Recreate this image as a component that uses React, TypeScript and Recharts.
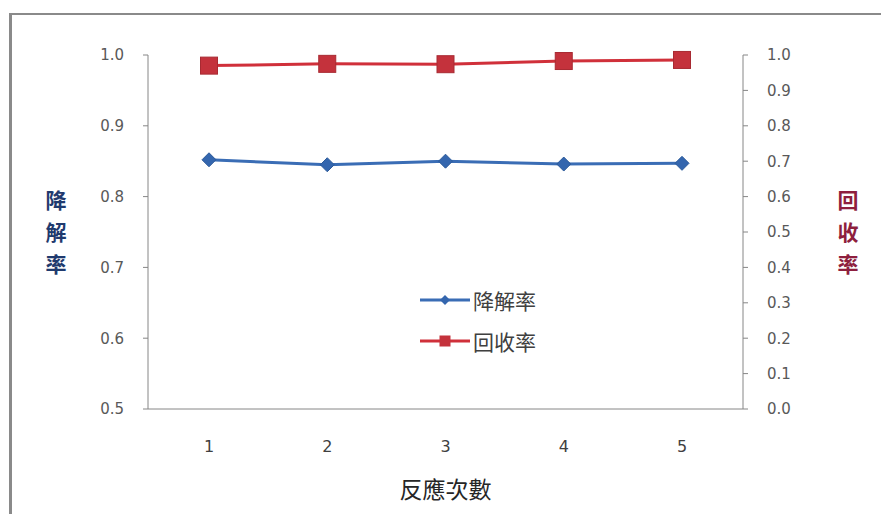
import React from 'react';
import { LineChart, Line, XAxis, YAxis, Legend } from 'recharts';

// Reaction cycles and the two measured rates per cycle
const cycles = ['1', '2', '3', '4', '5'];
const degradationRate = [0.852, 0.845, 0.85, 0.846, 0.847];
const recoveryRate = [0.97, 0.975, 0.974, 0.983, 0.986];

// Axis ticks
const leftTicks = [0.5, 0.6, 0.7, 0.8, 0.9, 1.0];
const rightTicks = [0, 0.1, 0.2, 0.3, 0.4, 0.5, 0.6, 0.7, 0.8, 0.9, 1.0];

// Titles
const degradationName = '降解率';
const recoveryName = '回收率';
const xTitle = '反應次數';

// Legend rows follow the series order
const seriesOrder = ['degradation', 'recovery'];

const BLUE = '#3A6DB5';
const BLUE_DOT = '#3466AE';
const RED = '#D0303A';
const RED_DOT = '#C4323C';
const AXIS = '#868686';
const TICK_TEXT = '#595959';
const CJK = '"Noto Sans CJK TC", "Noto Sans CJK SC", sans-serif';
const NUM = '"DejaVu Sans", sans-serif';

const data = cycles.map((c, i) => ({
  cycle: c,
  degradation: degradationRate[i],
  recovery: recoveryRate[i],
}));

const fmt = (v: number) => v.toFixed(1);

const DiamondDot = (props: any) => {
  const { cx, cy } = props;
  if (cx == null || cy == null) return null;
  const r = 7;
  return (
    <polygon
      points={`${cx},${cy - r} ${cx + r},${cy} ${cx},${cy + r} ${cx - r},${cy}`}
      fill={BLUE_DOT}
      stroke="#2C5A9A"
      strokeWidth={1}
    />
  );
};

const SquareDot = (props: any) => {
  const { cx, cy } = props;
  if (cx == null || cy == null) return null;
  const s = 17;
  return (
    <rect
      x={cx - s / 2}
      y={cy - s / 2}
      width={s}
      height={s}
      fill={RED_DOT}
      stroke="#A82A32"
      strokeWidth={1}
    />
  );
};

// Vertically stacked CJK axis title
const StackedTitle = (props: any) => {
  const { viewBox, chars, color, dxFromAxis, side } = props;
  const vb = viewBox || { x: side === 'left' ? 88 : 743, y: 55, width: 60, height: 354 };
  const x = side === 'left' ? vb.x - dxFromAxis : vb.x + dxFromAxis;
  const midY = vb.y + vb.height / 2;
  const pitch = 32;
  const startY = midY - pitch + 8;
  return (
    <text textAnchor="middle" fill={color} fontSize={21} fontWeight="bold" fontFamily={CJK}>
      {chars.split('').map((ch: string, i: number) => (
        <tspan key={i} x={x} y={startY + i * pitch}>
          {ch}
        </tspan>
      ))}
    </text>
  );
};

const XTitle = (props: any) => {
  const { viewBox } = props;
  const vb = viewBox || { x: 148, y: 409, width: 595, height: 40 };
  return (
    <text
      x={vb.x + vb.width / 2}
      y={vb.y + 89}
      textAnchor="middle"
      fill="#262626"
      fontSize={23}
      fontFamily={CJK}
    >
      {xTitle}
    </text>
  );
};

const LegendContent = (props: any) => {
  const { payload } = props;
  if (!payload) return null;
  const items = [...payload].sort(
    (a: any, b: any) => seriesOrder.indexOf(a.dataKey) - seriesOrder.indexOf(b.dataKey)
  );
  return (
    <div style={{ display: 'flex', flexDirection: 'column' }}>
      {items.map((entry: any) => {
        const isBlue = entry.dataKey === 'degradation';
        const color = isBlue ? BLUE : RED;
        return (
          <div
            key={entry.value}
            style={{ display: 'flex', alignItems: 'center', height: 41 }}
          >
            <svg width={54} height={20} style={{ display: 'block' }}>
              <line x1={2} y1={10} x2={52} y2={10} stroke={color} strokeWidth={3} />
              {isBlue ? (
                <polygon points="27,5 32,10 27,15 22,10" fill={BLUE_DOT} />
              ) : (
                <rect x={21.5} y={4.5} width={11} height={11} fill={RED_DOT} />
              )}
            </svg>
            <span
              style={{
                fontFamily: CJK,
                fontSize: 21,
                color: '#404040',
                marginLeft: 1,
                lineHeight: '22px',
              }}
            >
              {entry.value}
            </span>
          </div>
        );
      })}
    </div>
  );
};

export default function App() {
  return (
    <div
      style={{
        position: 'absolute',
        left: 0,
        top: 0,
        width: 881,
        height: 514,
        overflow: 'hidden',
        background: '#ffffff',
      }}
    >
      <div
        style={{
          position: 'absolute',
          left: 9,
          top: 13,
          width: 900,
          height: 540,
          borderTop: '2px solid #8a8a8a',
          borderLeft: '3px solid #8a8a8a',
          boxSizing: 'border-box',
        }}
      />
      <div style={{ position: 'absolute', left: 0, top: 0 }}>
        <LineChart
          width={881}
          height={514}
          data={data}
          margin={{ top: 55, right: 78, bottom: 65, left: 88 }}
        >
          <XAxis
            dataKey="cycle"
            type="category"
            padding={{ left: 61, right: 61 }}
            axisLine={{ stroke: AXIS, strokeWidth: 1 }}
            tickLine={false}
            tickSize={0}
            tickMargin={32}
            height={40}
            tick={{ fill: '#404040', fontSize: 16, fontFamily: NUM }}
            label={<XTitle />}
          />
          <YAxis
            yAxisId="left"
            orientation="left"
            domain={[0.5, 1.0]}
            ticks={leftTicks}
            tickFormatter={fmt}
            width={60}
            axisLine={{ stroke: AXIS, strokeWidth: 1 }}
            tickLine={{ stroke: AXIS }}
            tickSize={5}
            tickMargin={19}
            tick={{ fill: TICK_TEXT, fontSize: 15, fontFamily: NUM }}
            label={
              <StackedTitle side="left" chars={degradationName} color="#1F3A6E" dxFromAxis={32} />
            }
          />
          <YAxis
            yAxisId="right"
            orientation="right"
            domain={[0, 1.0]}
            ticks={rightTicks}
            tickFormatter={fmt}
            width={60}
            axisLine={{ stroke: AXIS, strokeWidth: 1 }}
            tickLine={{ stroke: AXIS }}
            tickSize={5}
            tickMargin={19}
            tick={{ fill: TICK_TEXT, fontSize: 15, fontFamily: NUM }}
            label={
              <StackedTitle side="right" chars={recoveryName} color="#8E1F3E" dxFromAxis={105} />
            }
          />
          <Legend
            layout="vertical"
            align="center"
            verticalAlign="middle"
            content={<LegendContent />}
            wrapperStyle={{ left: 418, top: 279, width: 160 }}
          />
          <Line
            yAxisId="left"
            type="linear"
            dataKey="degradation"
            name={degradationName}
            stroke={BLUE}
            strokeWidth={3}
            dot={<DiamondDot />}
            activeDot={false}
            isAnimationActive={false}
          />
          <Line
            yAxisId="right"
            type="linear"
            dataKey="recovery"
            name={recoveryName}
            stroke={RED}
            strokeWidth={3}
            dot={<SquareDot />}
            activeDot={false}
            isAnimationActive={false}
          />
        </LineChart>
      </div>
    </div>
  );
}
